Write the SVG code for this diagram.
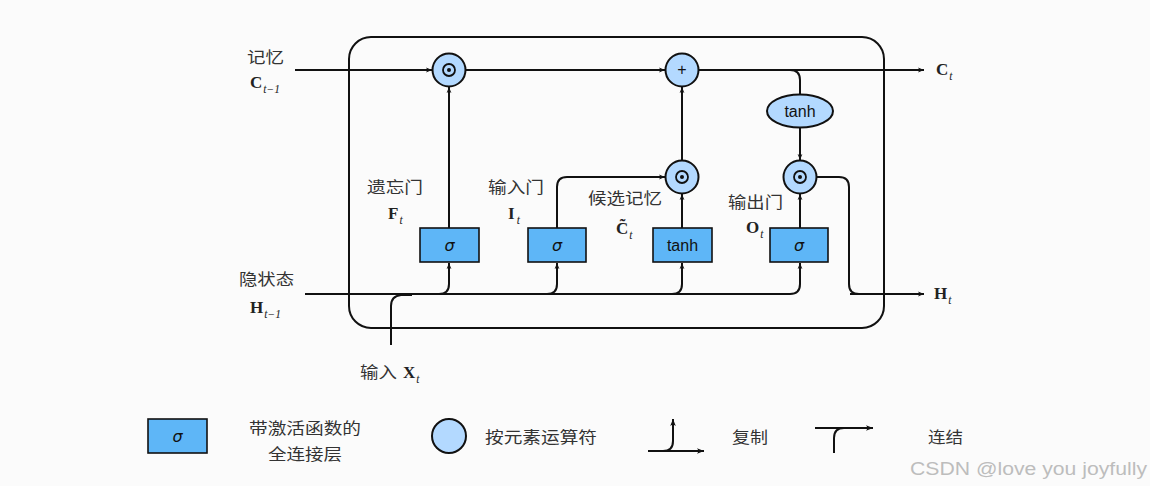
<svg xmlns="http://www.w3.org/2000/svg" width="1150" height="486" viewBox="0 0 1150 486">
<style>
.ln{fill:none;stroke:#111;stroke-width:2}
.arr{fill:none;stroke:#111;stroke-width:2;marker-end:url(#ah)}
.box{fill:#5eb6f7;stroke:#111;stroke-width:1.6}
.cir{fill:#b3d9ff;stroke:#111;stroke-width:2}
.cn{font-family:"Noto Sans CJK SC","Noto Sans",sans-serif;font-size:16px;fill:#333}
.m{font-family:"Liberation Serif",serif;font-weight:bold;font-size:17px;fill:#222}
.sub{font-family:"Liberation Serif",serif;font-style:italic;font-weight:normal;font-size:11.5px;fill:#222}
.sig{font-family:"DejaVu Sans",sans-serif;font-style:italic;font-size:16px;fill:#111}
.tx{font-family:"Liberation Sans",Arial,sans-serif;font-size:16px;fill:#111}
</style>
<defs>
<marker id="ah" viewBox="0 0 10 10" refX="10" refY="5" markerWidth="6" markerHeight="6" orient="auto" markerUnits="userSpaceOnUse">
<path d="M0,1 L10,5 L0,9 L2.5,5 Z" fill="#111"/>
</marker>
<marker id="ah2" viewBox="0 0 10 10" refX="10" refY="5" markerWidth="7" markerHeight="7" orient="auto" markerUnits="userSpaceOnUse">
<path d="M0,1 L10,5 L0,9 L2.5,5 Z" fill="#111"/>
</marker>
<g id="odot"><circle r="16.5" class="cir"/><circle r="6" fill="none" stroke="#111" stroke-width="1.8"/><circle r="2" fill="#111"/></g>
</defs>
<rect width="1150" height="486" fill="#fbfbfb"/>

<g id="cell">
<rect x="349" y="37" width="535" height="291" rx="22" fill="none" stroke="#111" stroke-width="2"/>
</g>

<g id="connectors">
<path class="arr" d="M295,70 H432"/>
<path class="arr" d="M465,70 H665"/>
<path class="arr" d="M698,70 H924"/>
<path class="ln" d="M780,70 H790 Q800,70 800,80 V94"/>
<path class="arr" d="M800,127 V160"/>
<path class="ln" d="M816,177 H839 Q849,177 849,187 V284 Q849,294 859,294 H870"/>
<path class="arr" d="M850,294 H924"/>
<path class="arr" d="M449,228 V87"/>
<path class="arr" d="M557,228 V187 Q557,177 567,177 H665"/>
<path class="arr" d="M682,228 V194"/>
<path class="arr" d="M682,161 V87"/>
<path class="arr" d="M800,228 V194"/>
<path class="ln" d="M305,294 H790 Q800,294 800,284 V276"/>
<path class="arr" d="M800,280 V263"/>
<path class="arr" d="M439,294 Q449,294 449,284 V263"/>
<path class="arr" d="M547,294 Q557,294 557,284 V263"/>
<path class="arr" d="M672,294 Q682,294 682,284 V263"/>
<path class="ln" d="M391,345 V306 Q391,296 401,295 H412"/>
</g>

<g id="n_forget_mul"><use href="#odot" x="449" y="70"/></g>
<g id="n_plus"><circle cx="682" cy="70" r="16.5" class="cir"/><text x="682" y="75" text-anchor="middle" class="tx" font-size="13">+</text></g>
<g id="n_input_mul"><use href="#odot" x="682" y="177"/></g>
<g id="n_output_mul"><use href="#odot" x="800" y="177"/></g>
<g id="n_tanh_ell"><ellipse cx="800" cy="111" rx="33" ry="16.5" class="cir"/><text x="800" y="117" text-anchor="middle" class="tx">tanh</text></g>

<g id="n_forget"><rect x="420" y="228" width="59" height="34" class="box"/><text x="449.5" y="251" text-anchor="middle" class="sig">σ</text></g>
<g id="n_input"><rect x="528" y="228" width="58" height="34" class="box"/><text x="557" y="251" text-anchor="middle" class="sig">σ</text></g>
<g id="n_cand"><rect x="653" y="228" width="59" height="34" class="box"/><text x="682.5" y="251" text-anchor="middle" class="tx">tanh</text></g>
<g id="n_output"><rect x="770" y="228" width="58" height="34" class="box"/><text x="799" y="251" text-anchor="middle" class="sig">σ</text></g>

<g id="labels">
<text x="247" y="63" class="cn" textLength="37" lengthAdjust="spacingAndGlyphs">记忆</text>
<text x="250" y="88" class="m">C<tspan class="sub" dy="5" dx="1">t−1</tspan></text>
<text x="367" y="193" class="cn" textLength="56" lengthAdjust="spacingAndGlyphs">遗忘门</text>
<text x="388" y="219" class="m">F<tspan class="sub" dy="5" dx="1">t</tspan></text>
<text x="488" y="193" class="cn" textLength="56" lengthAdjust="spacingAndGlyphs">输入门</text>
<text x="508" y="219" class="m">I<tspan class="sub" dy="5" dx="2">t</tspan></text>
<text x="588" y="204" class="cn" textLength="74" lengthAdjust="spacingAndGlyphs">候选记忆</text>
<text x="616" y="234" class="m">C̃<tspan class="sub" dy="5" dx="1">t</tspan></text>
<text x="728" y="208" class="cn" textLength="55" lengthAdjust="spacingAndGlyphs">输出门</text>
<text x="746" y="233" class="m">O<tspan class="sub" dy="5" dx="1">t</tspan></text>
<text x="239" y="285" class="cn" textLength="55" lengthAdjust="spacingAndGlyphs">隐状态</text>
<text x="250" y="313" class="m">H<tspan class="sub" dy="5" dx="1">t−1</tspan></text>
<text x="360" y="378" class="cn" textLength="37" lengthAdjust="spacingAndGlyphs">输入</text>
<text x="403" y="378" class="m">X<tspan class="sub" dy="5" dx="1">t</tspan></text>
<text x="936" y="75" class="m">C<tspan class="sub" dy="5" dx="1">t</tspan></text>
<text x="934" y="299" class="m">H<tspan class="sub" dy="5" dx="1">t</tspan></text>
</g>

<g id="legend">
<rect x="148" y="419" width="59" height="34" class="box"/><text x="177.5" y="442" text-anchor="middle" class="sig">σ</text>
<text x="249" y="434" class="cn" textLength="112" lengthAdjust="spacingAndGlyphs">带激活函数的</text>
<text x="268" y="460" class="cn" textLength="74" lengthAdjust="spacingAndGlyphs">全连接层</text>
<circle cx="449" cy="436" r="17" class="cir"/>
<text x="485" y="443" class="cn" textLength="112" lengthAdjust="spacingAndGlyphs">按元素运算符</text>
<path class="ln" d="M648,451 H704" marker-end="url(#ah2)"/>
<path class="ln" d="M663,451 Q673,451 673,441 V419" marker-end="url(#ah2)"/>
<text x="732" y="443" class="cn" textLength="36" lengthAdjust="spacingAndGlyphs">复制</text>
<path class="ln" d="M815,428 H873" marker-end="url(#ah2)"/>
<path class="ln" d="M834,453 V438 Q834,428 844,428"/>
<text x="928" y="443" class="cn" textLength="35" lengthAdjust="spacingAndGlyphs">连结</text>
</g>
<text x="910" y="475" font-family="'Liberation Sans',Arial,sans-serif" font-size="18" fill="#bdbdbd" textLength="237" lengthAdjust="spacingAndGlyphs">CSDN @love you joyfully</text>
</svg>
